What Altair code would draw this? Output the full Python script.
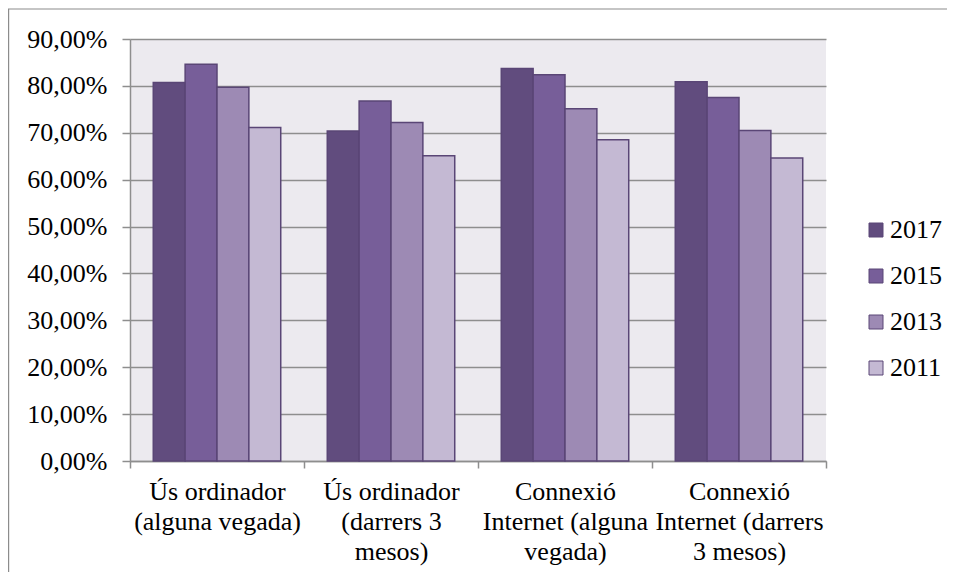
import altair as alt
import pandas as pd

CATEGORIES = [
    "Ús ordinador (alguna vegada)",
    "Ús ordinador (darrers 3 mesos)",
    "Connexió Internet (alguna vegada)",
    "Connexió Internet (darrers 3 mesos)",
]
CATEGORY_LINES = [
    ["Ús ordinador", "(alguna vegada)"],
    ["Ús ordinador", "(darrers 3", "mesos)"],
    ["Connexió", "Internet (alguna", "vegada)"],
    ["Connexió", "Internet (darrers", "3 mesos)"],
]
YEARS = ["2017", "2015", "2013", "2011"]
VALUES_2017 = [80.7, 70.4, 83.7, 80.9]
VALUES_2015 = [84.6, 76.8, 82.4, 77.5]
VALUES_2013 = [79.7, 72.2, 75.1, 70.5]
VALUES_2011 = [71.1, 65.1, 68.5, 64.6]
COLORS = ["#614C7E", "#775E99", "#9D8AB4", "#C4B9D3"]
Y_TICKS = [0, 10, 20, 30, 40, 50, 60, 70, 80, 90]

series = {"2017": VALUES_2017, "2015": VALUES_2015, "2013": VALUES_2013, "2011": VALUES_2011}
rows = []
for y in YEARS:
    for c, v in zip(CATEGORIES, series[y]):
        rows.append({"categoria": c, "any": y, "valor": v})
df = pd.DataFrame(rows)

label_map = "{" + ",".join(
    "'" + c + "': [" + ",".join("'" + l + "'" for l in lines) + "]"
    for c, lines in zip(CATEGORIES, CATEGORY_LINES)
) + "}"

FONT = "Liberation Serif, Times New Roman, serif"
GRID = "#8E8E8E"

bars = alt.Chart(df).mark_bar(stroke="#5A4676", strokeWidth=1.5).encode(
    x=alt.X(
        "categoria:N",
        sort=CATEGORIES,
        scale=alt.Scale(paddingInner=0, paddingOuter=0),
        axis=alt.Axis(
            title=None,
            labelAngle=0,
            labelExpr=label_map + "[datum.label]",
            tickBand="extent",
            tickSize=7,
            tickColor=GRID,
            domainColor=GRID,
            domainWidth=1.5,
            tickWidth=1.5,
            labelFont=FONT,
            labelFontSize=26,
            labelColor="black",
            labelLineHeight=30,
            labelPadding=10,
            labelBaseline="top",
        ),
    ),
    xOffset=alt.XOffset("any:N", sort=YEARS, scale=alt.Scale(paddingInner=0, paddingOuter=0.73)),
    y=alt.Y(
        "valor:Q",
        scale=alt.Scale(domain=[0, 90], nice=False),
        axis=alt.Axis(
            title=None,
            values=Y_TICKS,
            labelExpr="replace(format(datum.value, '.2f'), '.', ',') + '%'",
            grid=True,
            gridColor=GRID,
            gridWidth=1.5,
            tickSize=8,
            tickColor=GRID,
            tickWidth=1.5,
            domainColor=GRID,
            domainWidth=1.5,
            labelFont=FONT,
            labelFontSize=26,
            labelColor="black",
            labelPadding=15,
        ),
    ),
    color=alt.Color(
        "any:N",
        sort=YEARS,
        scale=alt.Scale(domain=YEARS, range=COLORS),
        legend=alt.Legend(
            title=None,
            orient="none",
            legendX=733,
            legendY=178,
            symbolType="square",
            symbolSize=196,
            symbolStrokeColor="#5A4676",
            symbolStrokeWidth=1,
            symbolOpacity=1,
            labelFont=FONT,
            labelFontSize=26,
            labelColor="black",
            labelOffset=1,
            rowPadding=20,
            padding=0,
        ),
    ),
)

border = alt.Chart(pd.DataFrame({"b": [0]})).mark_rect(
    fill=None, stroke="#8C8C8C", strokeWidth=1.2
).encode(
    x=alt.value(-121.4), x2=alt.value(2000), y=alt.value(-30), y2=alt.value(2000)
)

chart = alt.layer(border, bars).properties(
    width=696,
    height=422,
    autosize=alt.AutoSizeParams(type="none"),
    padding={"left": 122, "top": 31, "right": 121, "bottom": 111},
    background="white",
).configure_view(fill="#ECEAEF", stroke=None)

chart.save("out.html", embed_options={"renderer": "svg", "actions": False})
